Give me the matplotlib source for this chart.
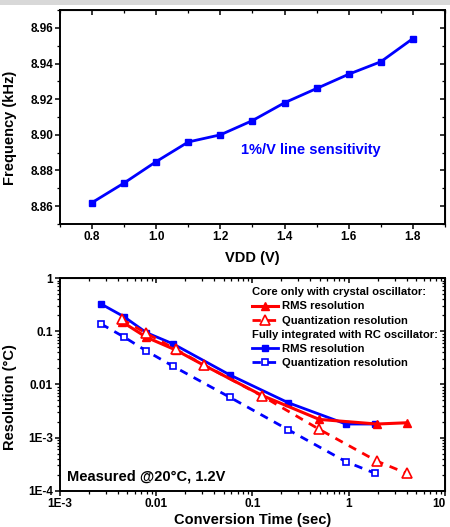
"""
Two-panel sensor figure: frequency vs supply voltage (top) and
resolution vs conversion time on log-log axes (bottom).
"""

import matplotlib.pyplot as plt
from matplotlib.patches import Rectangle
from matplotlib.ticker import AutoMinorLocator, LogLocator, NullFormatter

# ---- top panel data -------------------------------------------------------
VDD = [0.8, 0.9, 1.0, 1.1, 1.2, 1.3, 1.4, 1.5, 1.6, 1.7, 1.8]
FREQ_KHZ = [8.862, 8.873, 8.885, 8.896, 8.900, 8.908, 8.918, 8.926, 8.934, 8.941, 8.954]
VDD_TICKS = [0.8, 1.0, 1.2, 1.4, 1.6, 1.8]
FREQ_TICKS = [8.86, 8.88, 8.90, 8.92, 8.94, 8.96]

# ---- bottom panel data ----------------------------------------------------
RC_TIME = [0.00267, 0.00462, 0.0079, 0.0150, 0.0583, 0.234, 0.935, 1.88]
RC_RMS = [0.328, 0.189, 0.0946, 0.058, 0.0151, 0.00455, 0.0018, 0.0018]
RC_QUANT = [0.138, 0.0785, 0.0428, 0.022, 0.00573, 0.00141, 0.000352, 0.000212]

XTAL_TIME = [0.0044, 0.0079, 0.0159, 0.0313, 0.126, 0.494, 1.95, 4.0]
XTAL_RMS = [0.152, 0.0774, 0.0447, 0.023, 0.0062, 0.0022, 0.0018, 0.0019]
XTAL_QUANT = [0.169, 0.092, 0.046, 0.0233, 0.00607, 0.00143, 0.000362, 0.000212]

TIME_TICKS = [1e-3, 1e-2, 1e-1, 1, 10]
TIME_LABELS = ["1E-3", "0.01", "0.1", "1", "10"]
RES_TICKS = [1e-4, 1e-3, 1e-2, 1e-1, 1]
RES_LABELS = ["1E-4", "1E-3", "0.01", "0.1", "1"]

BLUE = "#0000ff"
RED = "#ff0000"

plt.rcParams["font.family"] = ["Liberation Sans", "DejaVu Sans"]
plt.rcParams["font.weight"] = "bold"
plt.rcParams["axes.labelweight"] = "bold"


def style_axis(axis, log=False):
    for spine in axis.spines.values():
        spine.set_linewidth(1.4)
    axis.tick_params(which="major", direction="out", length=3.5, width=1.1,
                     labelsize=8.5, pad=1.5)
    axis.tick_params(which="minor", direction="out", length=2, width=0.9)

    top = axis.secondary_xaxis("top")
    right = axis.secondary_yaxis("right")
    for sec in (top, right):
        sec.tick_params(which="major", direction="in", length=3.5, width=1.1)
        sec.tick_params(which="minor", direction="in", length=2, width=0.9)
    top.tick_params(labeltop=False)
    right.tick_params(labelright=False)
    if log:
        for sec_axis in (top.xaxis, right.yaxis):
            sec_axis.set_major_locator(LogLocator(base=10))
            sec_axis.set_minor_locator(LogLocator(base=10, subs=range(2, 10)))
            sec_axis.set_minor_formatter(NullFormatter())
    else:
        top.set_xticks(VDD_TICKS)
        top.xaxis.set_minor_locator(AutoMinorLocator(2))
        right.set_yticks(FREQ_TICKS)
        right.yaxis.set_minor_locator(AutoMinorLocator(2))


def draw_frequency(axis):
    axis.plot(VDD, FREQ_KHZ, color=BLUE, linewidth=2.0, marker="s",
              markersize=5)
    axis.set_xlim(0.7, 1.9)
    axis.set_ylim(8.85, 8.97)
    axis.set_xticks(VDD_TICKS)
    axis.set_xticklabels([f"{v:.1f}" for v in VDD_TICKS])
    axis.set_yticks(FREQ_TICKS)
    axis.set_yticklabels([f"{v:.2f}" for v in FREQ_TICKS])
    axis.xaxis.set_minor_locator(AutoMinorLocator(2))
    axis.yaxis.set_minor_locator(AutoMinorLocator(2))
    style_axis(axis)

    axis.set_xlabel("VDD (V)", fontsize=10.5)
    axis.set_ylabel("Frequency (kHz)", fontsize=10.5)
    axis.xaxis.set_label_coords(0.5, -0.125)
    axis.yaxis.set_label_coords(-0.112, 0.45)

    axis.text(0.469, 0.346, "1%/V line sensitivity", transform=axis.transAxes,
              color=BLUE, fontsize=10.5, fontweight="bold", va="center")


def draw_resolution(axis):
    axis.plot(RC_TIME, RC_RMS, color=BLUE, linewidth=2.0, marker="s",
              markersize=5, label="RMS resolution")
    axis.plot(RC_TIME, RC_QUANT, color=BLUE, linewidth=2.0, linestyle=(0, (3, 2.5)),
              marker="s", markersize=5, markerfacecolor="white",
              markeredgewidth=1.2, label="Quantization resolution")
    axis.plot(XTAL_TIME, XTAL_RMS, color=RED, linewidth=2.2, marker="^",
              markersize=6, label="RMS resolution")
    axis.plot(XTAL_TIME, XTAL_QUANT, color=RED, linewidth=2.0, linestyle=(0, (3, 2.5)),
              marker="^", markersize=6.5, markerfacecolor="white",
              markeredgewidth=1.2, label="Quantization resolution")

    axis.set_xscale("log")
    axis.set_yscale("log")
    axis.set_xlim(1e-3, 10)
    axis.set_ylim(1e-4, 1)
    axis.set_xticks(TIME_TICKS)
    axis.set_xticklabels(TIME_LABELS)
    axis.set_yticks(RES_TICKS)
    axis.set_yticklabels(RES_LABELS)
    # the last label sits on the figure edge, keep it inside
    axis.get_xticklabels()[-1].set_horizontalalignment("right")
    axis.xaxis.set_minor_locator(LogLocator(base=10, subs=range(2, 10)))
    axis.yaxis.set_minor_locator(LogLocator(base=10, subs=range(2, 10)))
    axis.xaxis.set_minor_formatter(NullFormatter())
    axis.yaxis.set_minor_formatter(NullFormatter())
    style_axis(axis, log=True)

    axis.set_xlabel("Conversion Time (sec)", fontsize=10.5)
    axis.set_ylabel("Resolution (\u00b0C)", fontsize=10.5)
    axis.xaxis.set_label_coords(0.5, -0.106)
    axis.yaxis.set_label_coords(-0.112, 0.44)

    axis.text(0.017, 0.066, "Measured @20\u00b0C, 1.2V", transform=axis.transAxes,
              fontsize=10.5, fontweight="bold", va="center")

    lines = axis.get_lines()
    legend_style = dict(loc="upper left", frameon=False, fontsize=8.1,
                        handlelength=2.3, handletextpad=0.4, labelspacing=0.38,
                        borderpad=0, borderaxespad=0, alignment="left",
                        title_fontproperties={"weight": "bold", "size": 8.1})
    xtal_legend = axis.legend(handles=[lines[2], lines[3]],
                              title="Core only with crystal oscillator:",
                              bbox_to_anchor=(0.499, 0.958), **legend_style)
    axis.add_artist(xtal_legend)
    axis.legend(handles=[lines[0], lines[1]],
                title="Fully integrated with RC oscillator:",
                bbox_to_anchor=(0.499, 0.758), **legend_style)


def main():
    fig = plt.figure(figsize=(4.5, 5.27), dpi=100)
    fig.patch.set_facecolor("white")
    fig.patches.append(Rectangle((0, 0.99), 1, 0.01, transform=fig.transFigure,
                                 facecolor="#d8d8d8", edgecolor="none"))

    top_axis = fig.add_axes([0.1333, 0.575, 0.8556, 0.406])
    bottom_axis = fig.add_axes([0.1333, 0.0689, 0.8556, 0.4031])

    draw_frequency(top_axis)
    draw_resolution(bottom_axis)

    fig.savefig("out.png", dpi=100)
    plt.close(fig)


if __name__ == "__main__":
    main()
